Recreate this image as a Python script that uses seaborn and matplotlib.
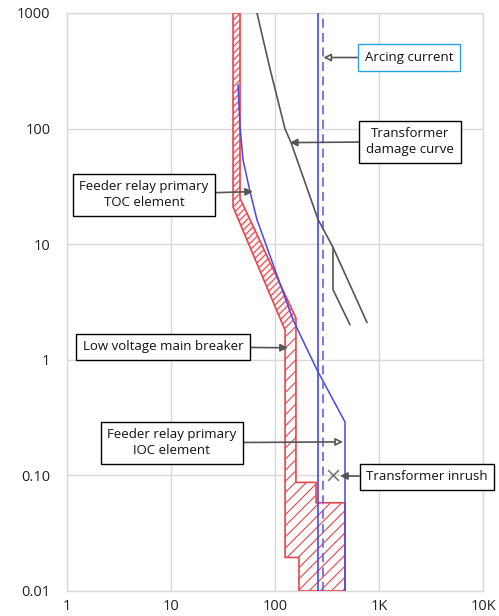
import numpy as np
import pandas as pd
import matplotlib
matplotlib.use("Agg")
import matplotlib.pyplot as plt
import seaborn as sns

# ---- data (current in A, time in s) ----
x_ticks = [1, 10, 100, 1000, 10000]
x_tick_labels = ["1", "10", "100", "1K", "10K"]
y_ticks = [0.01, 0.1, 1, 10, 100, 1000]
y_tick_labels = ["0.01", "0.10", "1", "10", "100", "1000"]

# Low voltage main breaker band (outline, clockwise)
lv_band_x = [39.5, 39.5, 125, 125, 170, 170, 471, 471, 248, 248, 159, 159, 46.1, 46.1]
lv_band_y = [1000, 21, 1.8, 0.0195, 0.0195, 0.01, 0.01, 0.058, 0.058, 0.087, 0.087, 2.3, 25, 1000]
# upper (long-time) part of band
lv_upper_x = [39.5, 39.5, 125, 159, 46.1, 46.1]
lv_upper_y = [1000, 21, 1.8, 2.3, 25, 1000]
# lower (short-time / instantaneous) part of band
lv_lower_x = [125, 125, 170, 170, 471, 471, 248, 248, 159, 159]
lv_lower_y = [1.8, 0.0195, 0.0195, 0.01, 0.01, 0.058, 0.058, 0.087, 0.087, 2.3]

# Feeder relay TOC / IOC curve
relay_x = [44.1, 46.1, 49.2, 57.5, 67.1, 149, 253, 471, 471]
relay_y = [240, 104, 54, 28.5, 16.3, 2.22, 0.82, 0.29, 0.01]

relay_ioc_current = 259
arcing_current = 289

# Transformer damage curve
damage_x = [67.1, 89.5, 125, 142, 259, 361, 767]
damage_y = [1000, 329, 99, 76.5, 16.4, 9.4, 2.1]
damage2_x = [361, 361, 526]
damage2_y = [9.4, 4.05, 2.01]

inrush_x = [361]
inrush_y = [0.1]

labels = ["Arcing current", "Transformer\ndamage curve", "Feeder relay primary\nTOC element",
          "Low voltage main breaker", "Feeder relay primary\nIOC element", "Transformer inrush"]
label_pos_x = [1942, 1986, 5.5, 8.38, 10.2, 2895]
label_pos_y = [412, 77, 26.8, 1.30, 0.191, 0.097]
tip_x = [292, 139, 61.4, 133, 451, 422]
tip_y = [412, 75.7, 28.5, 1.27, 0.195, 0.099]
label_edge = ["#29a3e6", "black", "black", "black", "black", "black"]
open_head = [True, False, False, False, True, False]

# ---- style ----
sns.set_theme(style="whitegrid")
plt.rcParams['font.family'] = ['Open Sans', 'DejaVu Sans']
plt.rcParams['hatch.linewidth'] = 0.8

fig = plt.figure(figsize=(4.99, 6.16), dpi=100)
ax = fig.add_axes([67/499, 1-591/616, (483-67)/499, (591-13)/616])
ax.set_xscale("log")
ax.set_yscale("log")
ax.set_xlim(1, 10000)
ax.set_ylim(0.01, 1000)

red = "#e8454e"
blue = "#4848e6"

# LV band
ax.fill(lv_lower_x, lv_lower_y, facecolor="white", edgecolor=red, hatch="///", linewidth=0, zorder=2)
ax.fill(lv_upper_x, lv_upper_y, facecolor="#fff2f2", edgecolor=red, hatch="/////", linewidth=0, zorder=2.1)
ax.fill(lv_band_x, lv_band_y, facecolor="none", edgecolor=red, linewidth=1.2, zorder=3)

# relay curve
sns.lineplot(x=relay_x, y=relay_y, ax=ax, color=blue, lw=1.1, sort=False, estimator=None, zorder=4)
ax.axvline(relay_ioc_current, color=blue, lw=1.2, zorder=4)
ax.axvline(arcing_current, color="#6b6bf0", lw=1.3, ls=(0, (5, 3)), zorder=4)

# transformer damage curve
sns.lineplot(x=damage_x, y=damage_y, ax=ax, color="#555555", lw=1.2, sort=False, estimator=None, zorder=5)
sns.lineplot(x=damage2_x, y=damage2_y, ax=ax, color="#555555", lw=1.2, sort=False, estimator=None, zorder=5)

# inrush marker
sns.scatterplot(x=inrush_x, y=inrush_y, ax=ax, marker="x", s=60, color="#777777", linewidth=1.2, zorder=6)

# annotations
for lab, lx, ly, tx, ty, ec, oh in zip(labels, label_pos_x, label_pos_y, tip_x, tip_y, label_edge, open_head):
    ax.annotate(lab, xy=(tx, ty), xytext=(lx, ly), ha="center", va="center",
                fontsize=9.5, color="#111111", linespacing=1.3,
                bbox=dict(boxstyle="square,pad=0.5", fc="white", ec=ec, lw=1.0),
                arrowprops=dict(arrowstyle="-|>", color="#555555", lw=1.2,
                                fc="white" if oh else "#555555", mutation_scale=11,
                                shrinkA=0, shrinkB=0),
                annotation_clip=False, zorder=10)

ax.set_xticks(x_ticks)
ax.set_xticklabels(x_tick_labels)
ax.set_yticks(y_ticks)
ax.set_yticklabels(y_tick_labels)
ax.minorticks_off()
ax.tick_params(axis="y", pad=12, labelsize=10.5, colors="#222222", length=0)
ax.tick_params(axis="x", pad=6, labelsize=10.5, colors="#222222", length=0)
ax.grid(True, color="#d9d9d9", lw=1.0)
for s in ax.spines.values():
    s.set_color("#d9d9d9")
    s.set_linewidth(1.0)
ax.set_xlabel("")
ax.set_ylabel("")
if ax.get_legend():
    ax.get_legend().remove()

fig.savefig("out.png", dpi=100)
